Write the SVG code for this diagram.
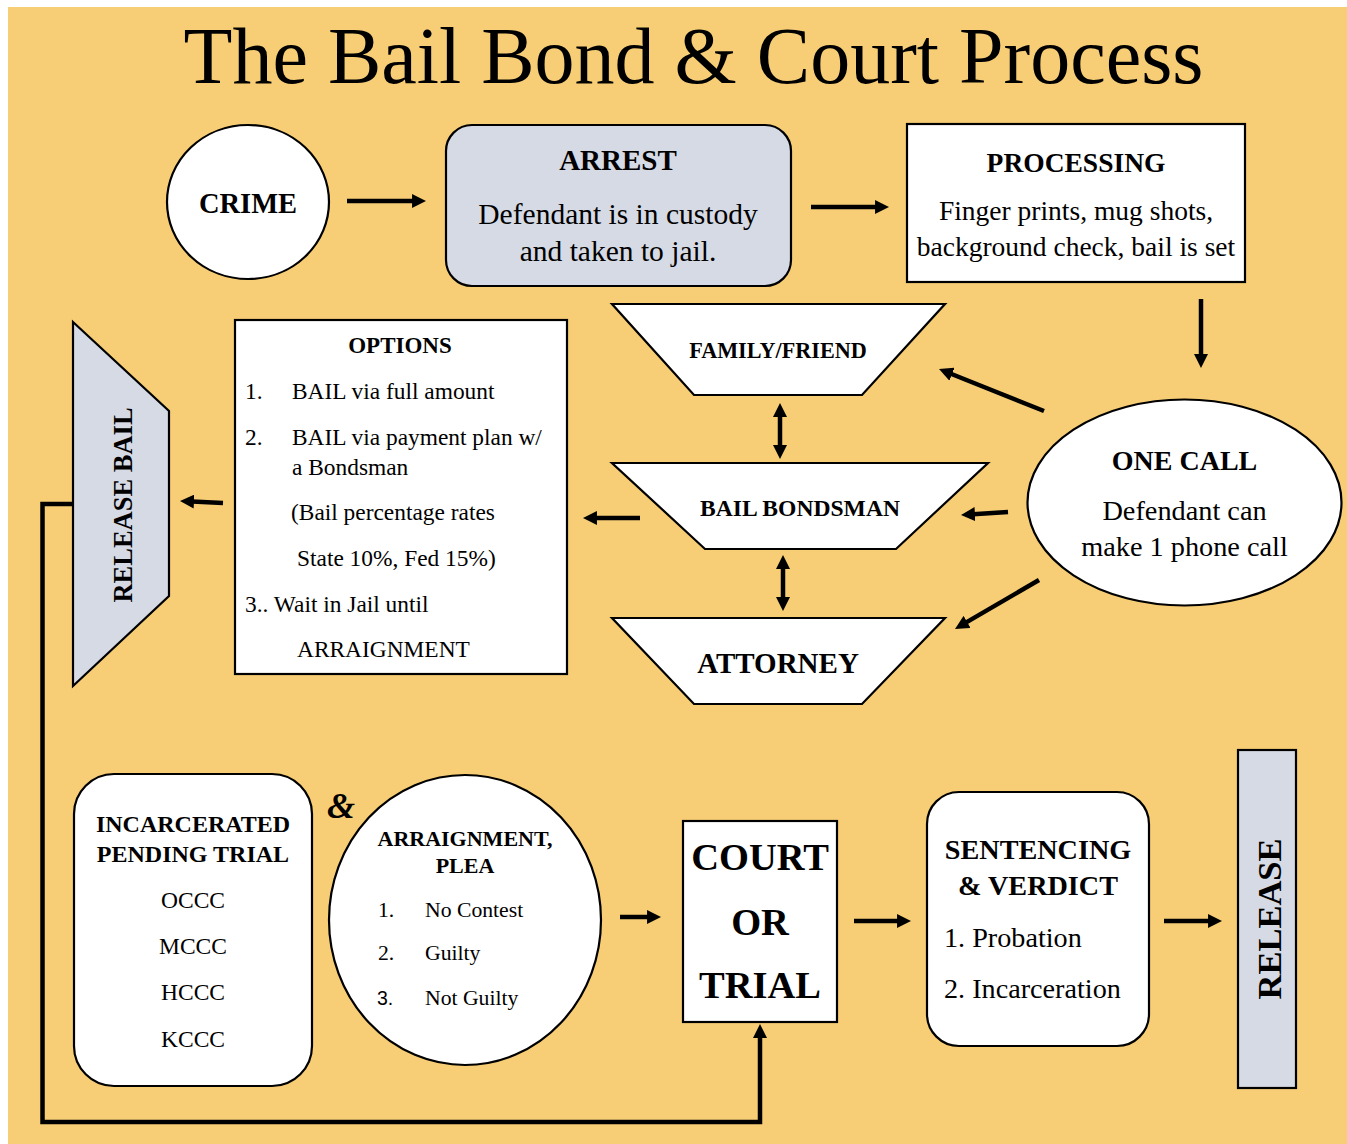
<svg xmlns="http://www.w3.org/2000/svg" width="1347" height="1144" viewBox="0 0 1347 1144">
<defs>
<style>
text{font-family:"Liberation Serif","Times New Roman",serif;fill:#000}
.b{font-weight:bold}
.c{text-anchor:middle}
.w{fill:#fff;stroke:#000;stroke-width:2.2}
.g{fill:#D6DAE4;stroke:#000;stroke-width:2.2}
.a{fill:none;stroke:#000;stroke-width:4.5}
</style>
<marker id="ah" viewBox="0 0 10 10" markerUnits="userSpaceOnUse" markerWidth="14" markerHeight="14" refX="1.4" refY="5" orient="auto-start-reverse">
<path d="M0,0 L10,5 L0,10 z" fill="#000"/>
</marker>
</defs>
<rect x="0" y="0" width="1347" height="1144" fill="#fff"/>
<rect x="8" y="7" width="1339" height="1137" fill="#F7CE75"/>
<text id="title" x="693.5" y="83" class="c" font-size="80">The Bail Bond &amp; Court Process</text>

<g id="connectors">
<line class="a" x1="347" y1="201" x2="414" y2="201" marker-end="url(#ah)"/>
<line class="a" x1="811" y1="207" x2="877" y2="207" marker-end="url(#ah)"/>
<line class="a" x1="1201" y1="299" x2="1201" y2="356" marker-end="url(#ah)"/>
<line class="a" x1="1044" y1="411" x2="950.2" y2="373.5" marker-end="url(#ah)"/>
<line class="a" x1="1008" y1="512" x2="973" y2="514.2" marker-end="url(#ah)"/>
<line class="a" x1="1039" y1="580" x2="965.4" y2="622.9" marker-end="url(#ah)"/>
<line class="a" x1="640" y1="518" x2="595" y2="518" marker-end="url(#ah)"/>
<line class="a" x1="223" y1="503" x2="192" y2="501.5" marker-end="url(#ah)"/>
<line class="a" x1="780" y1="415" x2="780" y2="447" marker-start="url(#ah)" marker-end="url(#ah)"/>
<line class="a" x1="783" y1="567" x2="783" y2="599" marker-start="url(#ah)" marker-end="url(#ah)"/>
<line class="a" x1="620" y1="917" x2="649" y2="917" marker-end="url(#ah)"/>
<line class="a" x1="854" y1="921" x2="899" y2="921" marker-end="url(#ah)"/>
<line class="a" x1="1164" y1="921" x2="1210" y2="921" marker-end="url(#ah)"/>
<polyline class="a" stroke-width="5" points="74,504 42.5,504 42.5,1122 760,1122 760,1036" marker-end="url(#ah)"/>
</g>

<g id="crime">
<ellipse class="w" cx="248" cy="202" rx="81" ry="77"/>
<text x="248" y="213" class="b c" font-size="28.5">CRIME</text>
</g>

<g id="arrest">
<rect class="g" x="446" y="125" width="345" height="161" rx="26"/>
<text x="618" y="170" class="b c" font-size="29">ARREST</text>
<text x="618" y="224" class="c" font-size="29.5">Defendant is in custody</text>
<text x="618" y="261" class="c" font-size="29.5">and taken to jail.</text>
</g>

<g id="processing">
<rect class="w" stroke-width="3" x="907" y="124" width="338" height="158"/>
<text x="1076" y="172" class="b c" font-size="27.5">PROCESSING</text>
<text x="1076" y="220" class="c" font-size="27.5">Finger prints, mug shots,</text>
<text x="1076" y="256" class="c" font-size="27.5">background check, bail is set</text>
</g>

<g id="onecall">
<ellipse class="w" cx="1184.5" cy="502.5" rx="157" ry="103"/>
<text x="1184.5" y="470" class="b c" font-size="28">ONE CALL</text>
<text x="1184.5" y="520" class="c" font-size="28.3">Defendant can</text>
<text x="1184.5" y="556" class="c" font-size="28.3">make 1 phone call</text>
</g>

<g id="family">
<polygon class="w" points="612,304 945,304 862,395 694,395"/>
<text x="778" y="358" class="b c" font-size="22.2">FAMILY/FRIEND</text>
</g>

<g id="bondsman">
<polygon class="w" points="612,463 988,463 896,549 705,549"/>
<text x="800" y="516" class="b c" font-size="23.6">BAIL BONDSMAN</text>
</g>

<g id="attorney">
<polygon class="w" points="612,618 945,618 862,704 694,704"/>
<text x="778" y="673" class="b c" font-size="29">ATTORNEY</text>
</g>

<g id="options">
<rect class="w" stroke-width="2.5" x="235" y="320" width="332" height="354"/>
<text x="400" y="353" class="b c" font-size="23">OPTIONS</text>
<g font-size="23.4">
<text x="245" y="399">1.</text>
<text x="292" y="399">BAIL via full amount</text>
<text x="245" y="445">2.</text>
<text x="292" y="445">BAIL via payment plan w/</text>
<text x="292" y="475">a Bondsman</text>
<text x="291" y="520">(Bail percentage rates</text>
<text x="297" y="566">State 10%, Fed 15%)</text>
<text x="245" y="612">3.. Wait in Jail until</text>
<text x="297" y="657">ARRAIGNMENT</text>
</g>
</g>

<g id="releasebail">
<polygon class="g" points="73,322 169,411 169,596 73,686"/>
<text transform="translate(132,505) rotate(-90)" class="b c" font-size="26.5">RELEASE BAIL</text>
</g>

<g id="incarcerated">
<rect class="w" x="74" y="774" width="238" height="312" rx="40"/>
<text x="193" y="832" class="b c" font-size="24">INCARCERATED</text>
<text x="193" y="862" class="b c" font-size="24">PENDING TRIAL</text>
<text x="193" y="908" class="c" font-size="23.5">OCCC</text>
<text x="193" y="954" class="c" font-size="23.5">MCCC</text>
<text x="193" y="1000" class="c" font-size="23.5">HCCC</text>
<text x="193" y="1047" class="c" font-size="23.5">KCCC</text>
</g>

<g id="amp">
<text x="341" y="818" class="b c" font-style="italic" font-size="36">&amp;</text>
</g>

<g id="arraignment">
<ellipse class="w" cx="465" cy="920" rx="136" ry="145"/>
<text x="465" y="846" class="b c" font-size="22">ARRAIGNMENT,</text>
<text x="465" y="873" class="b c" font-size="22">PLEA</text>
<g font-size="21.7">
<text x="378" y="917">1.</text>
<text x="425" y="917">No Contest</text>
<text x="378" y="960">2.</text>
<text x="425" y="960">Guilty</text>
<text x="377" y="1005" style="font-family:'Liberation Sans',Arial,sans-serif" font-size="19.5">3.</text>
<text x="425" y="1005">Not Guilty</text>
</g>
</g>

<g id="court">
<rect class="w" stroke-width="3.5" x="683" y="821" width="154" height="201"/>
<text x="760" y="870" class="b c" font-size="38.5">COURT</text>
<text x="760" y="935" class="b c" font-size="38.5">OR</text>
<text x="760" y="998" class="b c" font-size="38.5">TRIAL</text>
</g>

<g id="sentencing">
<rect class="w" x="927" y="792" width="222" height="254" rx="32"/>
<text x="1038" y="859" class="b c" font-size="28.2">SENTENCING</text>
<text x="1038" y="895" class="b c" font-size="28.2">&amp; VERDICT</text>
<text x="944" y="947" font-size="28.2">1. Probation</text>
<text x="944" y="998" font-size="28.2">2. Incarceration</text>
</g>

<g id="release">
<rect class="g" stroke-width="3" x="1238" y="750" width="58" height="338"/>
<text transform="translate(1281,919) rotate(-90)" class="b c" font-size="34.5">RELEASE</text>
</g>
</svg>
